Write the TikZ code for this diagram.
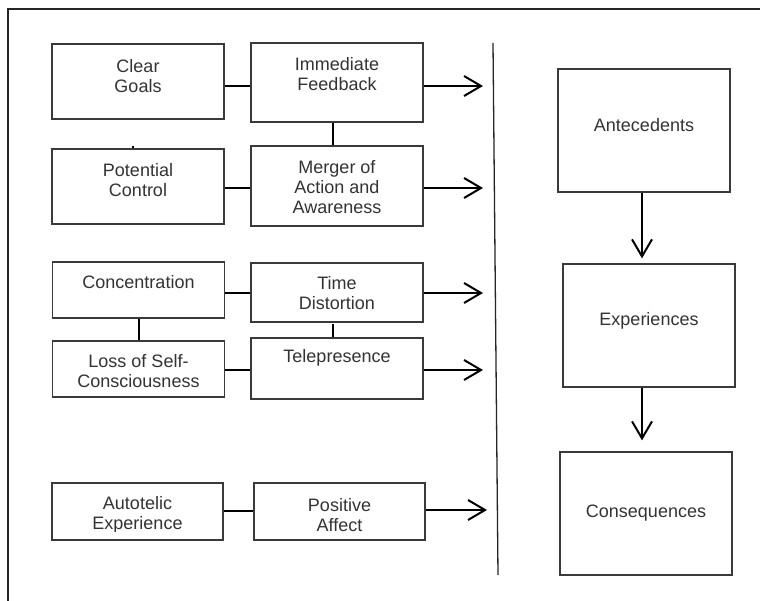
\documentclass[tikz,border=0pt]{standalone}
\usepackage{fontspec}
\setmainfont{Liberation Sans}
\usetikzlibrary{arrows.meta}
\definecolor{ink}{HTML}{333333}
\definecolor{edge}{HTML}{3A3A3A}
\begin{document}
\begin{tikzpicture}[x=1pt,y=-1pt,
  box/.style={draw=edge,line width=1.3pt,inner sep=0pt,minimum width=#1},
  box/.default=172pt,
  lbl/.style={text=ink,align=center,inner sep=0pt,font=\fontsize{18}{20}\selectfont},
  conn/.style={line width=2pt,black},
  flow/.style={line width=2pt,black,-{Straight Barb[length=17pt,width=20pt,line width=2pt]}}]
\useasboundingbox (0,0) rectangle (760,601);
\fill[white] (0,0) rectangle (760,601);
% outer frame (left and top edges)
\draw[line width=2pt,black!85] (8,601) -- (8,9) -- (760,9);
% divider between factors and stages
\draw[line width=1.3pt,black!85] (493,43) -- (498,575);

% ---- antecedent factors ----
\node[box,minimum height=75pt] (cg) at (138,81.5) {};
\node[box,minimum height=79pt] (if) at (337,82.5) {};
\node[box,minimum height=75pt] (pc) at (138,186.5) {};
\node[box,minimum height=80pt] (mg) at (337,186) {};
\node[lbl] (cgt) at (138,76) {Clear\\Goals};
\node[lbl] (ift) at (337,74) {Immediate\\Feedback};
\node[lbl] (pct) at (138,180) {Potential\\Control};
\node[lbl] (mgt) at (337,187) {Merger of\\Action and\\Awareness};

% ---- experience factors ----
\node[box,minimum height=56pt] (cc) at (138.5,290) {};
\node[box,minimum height=59pt] (td) at (337,292.5) {};
\node[box,minimum height=56pt] (ls) at (138.5,369) {};
\node[box,minimum height=61pt] (tp) at (337,368.5) {};
\node[lbl] (cct) at (138.5,282) {Concentration};
\node[lbl] (tdt) at (337,293) {Time\\Distortion};
\node[lbl] (lst) at (138.5,371) {Loss of Self-\\Consciousness};
\node[lbl] (tpt) at (337,358) {Telepresence};

% ---- consequence factors ----
\node[box=171pt,minimum height=57pt] (ae) at (137.5,511.5) {};
\node[box=171pt,minimum height=57pt] (pa) at (339.5,511.5) {};
\begin{scope}
  \clip (0,0) rectangle (760,531.5);
  \node[lbl] (aet) at (137.5,515) {Autotelic\\Experience};
  \node[lbl] (pat) at (339.5,515) {Positive\\Affect};
\end{scope}

% ---- stages ----
\node[box,minimum height=123pt] (ant) at (644,130.5) {};
\node[box,minimum height=123pt] (exp) at (649,325.5) {};
\node[box,minimum height=123pt] (cons) at (646,513.5) {};
\node[lbl] (antt) at (644,125) {Antecedents};
\node[lbl] (expt) at (649,321) {Experiences};
\node[lbl] (const) at (646,513) {Consequences};

% links between factors
\draw[conn] (cg.east |- 0,86) -- (if.west |- 0,86);
\draw[conn] (pc.east |- 0,188) -- (mg.west |- 0,188);
\draw[conn] (if.south -| 333,0) -- (mg.north -| 333,0);
\draw[conn] (cc.east |- 0,293) -- (td.west |- 0,293);
\draw[conn] (ls.east |- 0,370) -- (tp.west |- 0,370);
\draw[conn] (cc.south -| 139,0) -- (ls.north -| 139,0);
\coordinate (tdgap) at (333,324);
\draw[conn] (tdgap) -- (tp.north -| tdgap);
\draw[conn] (ae.east |- 0,511) -- (pa.west |- 0,511);
\coordinate (tick) at (133,146);
\draw[line width=1.5pt] (tick) -- ++(0,2.5);

% arrows toward the divider
\coordinate (a1) at (483,86);
\coordinate (a2) at (483,188);
\coordinate (a3) at (483,293);
\coordinate (a4) at (483,370);
\coordinate (a5) at (487,510);
\draw[flow] (if.east |- a1) -- (a1);
\draw[flow] (mg.east |- a2) -- (a2);
\draw[flow] (td.east |- a3) -- (a3);
\draw[flow] (tp.east |- a4) -- (a4);
\draw[flow] (pa.east |- a5) -- (a5);

% stage sequence
\draw[flow,shorten >=5pt] (ant.south -| 642,0) -- (exp.north -| 642,0);
\draw[flow,shorten >=11pt] (exp.south -| 642,0) -- (cons.north -| 642,0);
\end{tikzpicture}
\end{document}
